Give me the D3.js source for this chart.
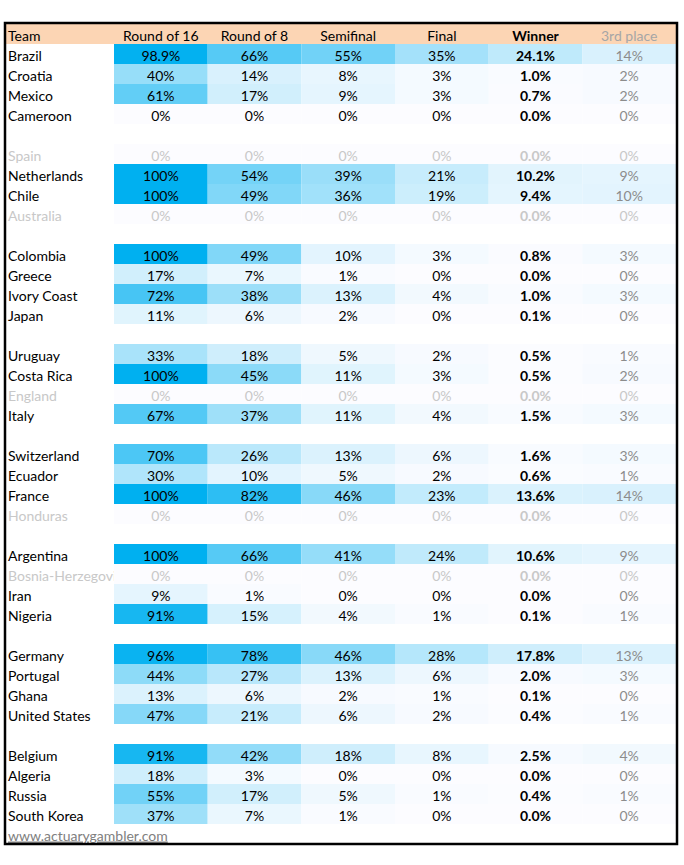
<!DOCTYPE html>
<html>
<head>
<meta charset="utf-8">
<script src="https://cdn.jsdelivr.net/npm/d3@7"></script>
<style>
  body { margin: 0; background: #fff; }
  text { font-family: Lato, "Open Sans", sans-serif; font-size: 14px; }
</style>
</head>
<body>
<script>
const W = 684, H = 865;

const columns = ["Round of 16", "Round of 8", "Semifinal", "Final", "Winner", "3rd place"];

// groups of four, in table order
const groups = [
  ["Brazil", "Croatia", "Mexico", "Cameroon"],
  ["Spain", "Netherlands", "Chile", "Australia"],
  ["Colombia", "Greece", "Ivory Coast", "Japan"],
  ["Uruguay", "Costa Rica", "England", "Italy"],
  ["Switzerland", "Ecuador", "France", "Honduras"],
  ["Argentina", "Bosnia-Herzegovina", "Iran", "Nigeria"],
  ["Germany", "Portugal", "Ghana", "United States"],
  ["Belgium", "Algeria", "Russia", "South Korea"]
];

// teams already knocked out (greyed)
const eliminated = ["Spain", "Australia", "England", "Honduras", "Bosnia-Herzegovina"];

// percentages per team: R16, R8, SF, Final, Winner, 3rd
const values = {
  "Brazil":        [98.9, 66, 55, 35, 24.1, 14],
  "Croatia":       [40, 14, 8, 3, 1.0, 2],
  "Mexico":        [61, 17, 9, 3, 0.7, 2],
  "Cameroon":      [0, 0, 0, 0, 0.0, 0],
  "Spain":         [0, 0, 0, 0, 0.0, 0],
  "Netherlands":   [100, 54, 39, 21, 10.2, 9],
  "Chile":         [100, 49, 36, 19, 9.4, 10],
  "Australia":     [0, 0, 0, 0, 0.0, 0],
  "Colombia":      [100, 49, 10, 3, 0.8, 3],
  "Greece":        [17, 7, 1, 0, 0.0, 0],
  "Ivory Coast":   [72, 38, 13, 4, 1.0, 3],
  "Japan":         [11, 6, 2, 0, 0.1, 0],
  "Uruguay":       [33, 18, 5, 2, 0.5, 1],
  "Costa Rica":    [100, 45, 11, 3, 0.5, 2],
  "England":       [0, 0, 0, 0, 0.0, 0],
  "Italy":         [67, 37, 11, 4, 1.5, 3],
  "Switzerland":   [70, 26, 13, 6, 1.6, 3],
  "Ecuador":       [30, 10, 5, 2, 0.6, 1],
  "France":        [100, 82, 46, 23, 13.6, 14],
  "Honduras":      [0, 0, 0, 0, 0.0, 0],
  "Argentina":     [100, 66, 41, 24, 10.6, 9],
  "Bosnia-Herzegovina": [0, 0, 0, 0, 0.0, 0],
  "Iran":          [9, 1, 0, 0, 0.0, 0],
  "Nigeria":       [91, 15, 4, 1, 0.1, 1],
  "Germany":       [96, 78, 46, 28, 17.8, 13],
  "Portugal":      [44, 27, 13, 6, 2.0, 3],
  "Ghana":         [13, 6, 2, 1, 0.1, 0],
  "United States": [47, 21, 6, 2, 0.4, 1],
  "Belgium":       [91, 42, 18, 8, 2.5, 4],
  "Algeria":       [18, 3, 0, 0, 0.0, 0],
  "Russia":        [55, 17, 5, 1, 0.4, 1],
  "South Korea":   [37, 7, 1, 0, 0.0, 0]
};

const source = "www.actuarygambler.com";

// build row list: header, teams with a blank row between groups, footer
let rows = [{type: "header"}];
groups.forEach((g, gi) => {
  if (gi > 0) rows.push({type: "blank"});
  g.forEach(t => rows.push({type: "team", team: t}));
});
rows.push({type: "footer"});

const y = d3.scaleBand().domain(d3.range(rows.length)).range([24, 844]);
const x = d3.scaleBand().domain(columns).range([114, 676]);
const color = d3.scaleLinear().domain([0, 100]).range(["#fcfcff", "#00b0f0"]);
const base = 16.5; // text baseline inside a row (excel-like bottom alignment)

const fmt = (v, ci) => {
  if (ci === 4 || !Number.isInteger(v)) return v.toFixed(1) + "%";
  return v + "%";
};

const svg = d3.select("body").append("svg").attr("width", W).attr("height", H);

// team names get clipped at the first data column, like a spreadsheet cell
svg.append("clipPath").attr("id", "teamclip")
  .append("rect").attr("x", 6).attr("y", 0).attr("width", 108).attr("height", H);

// header band
svg.append("rect").attr("x", 6).attr("y", y(0)).attr("width", 670).attr("height", y.bandwidth())
  .attr("fill", "#fcd5b4");

svg.append("text").attr("x", 8).attr("y", y(0) + base)
  .text("Team");

svg.selectAll(".colhead").data(columns).enter().append("text")
  .attr("class", "colhead")
  .attr("x", d => x(d) + x.bandwidth() / 2)
  .attr("y", y(0) + base)
  .attr("text-anchor", "middle")
  .attr("font-weight", (d, i) => i === 4 ? "bold" : null)
  .attr("fill", (d, i) => i === 5 ? "#a6a6a6" : "#000")
  .text(d => d);

const teamRows = rows.map((r, i) => Object.assign({i: i}, r)).filter(r => r.type === "team");

const rowG = svg.selectAll(".row").data(teamRows).enter().append("g")
  .attr("class", "row")
  .attr("transform", d => `translate(0,${y(d.i)})`);

rowG.append("text")
  .attr("clip-path", "url(#teamclip)")
  .attr("x", 8).attr("y", base)
  .attr("fill", d => eliminated.includes(d.team) ? "#c8c8c8" : "#000")
  .text(d => d.team);

const cells = rowG.selectAll(".cell")
  .data(d => values[d.team].map((v, ci) => ({v: v, ci: ci, team: d.team})))
  .enter().append("g").attr("class", "cell");

cells.append("rect")
  .attr("x", d => x(columns[d.ci]))
  .attr("width", x.bandwidth())
  .attr("height", y.bandwidth())
  .attr("fill", d => color(d.v));

cells.append("text")
  .attr("x", d => x(columns[d.ci]) + x.bandwidth() / 2)
  .attr("y", base)
  .attr("text-anchor", "middle")
  .attr("font-weight", d => d.ci === 4 ? "bold" : null)
  .attr("fill", d => eliminated.includes(d.team) ? "#c8c8c8" : (d.ci === 5 ? "#8c8c8c" : "#000"))
  .text(d => fmt(d.v, d.ci));

// footer link
const fy = y(rows.length - 1);
svg.append("text").attr("x", 8).attr("y", fy + base)
  .attr("fill", "#808080").attr("text-decoration", "underline")
  .text(source);

// outer border
svg.append("rect").attr("x", 5).attr("y", 23).attr("width", 672).attr("height", 821)
  .attr("fill", "none").attr("stroke", "#000").attr("stroke-width", 2.5);
</script>
</body>
</html>
